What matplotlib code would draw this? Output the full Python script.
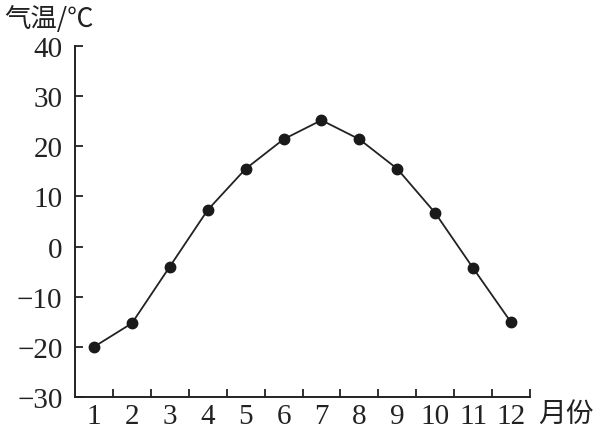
import matplotlib
matplotlib.use("Agg")
import matplotlib.pyplot as plt
import numpy as np

months = [1, 2, 3, 4, 5, 6, 7, 8, 9, 10, 11, 12]
temps = [-20, -15.3, -4, 7.3, 15.5, 21.4, 25.2, 21.4, 15.5, 6.7, -4.3, -15.1]
y_ticks = [-30, -20, -10, 0, 10, 20, 30, 40]

SERIF = ["Liberation Serif", "DejaVu Serif"]
CJK = ["Noto Sans CJK SC", "DejaVu Sans"]

fig = plt.figure(figsize=(6.05, 4.35), dpi=100)
ax = fig.add_axes([75 / 605, 1 - 398 / 435, (530 - 75) / 605, (398 - 47) / 435])

ax.plot(months, temps, color="#222222", lw=1.3, marker="o", ms=7.5,
        mfc="#1a1a1a", mec="#1a1a1a")

ax.set_xlim(0.5, 12.5)
ax.set_ylim(-30, 40)
ax.set_yticks(y_ticks)
ax.set_xticks(months)
ax.set_xticks(np.array(months) + 0.5, minor=True)

for s in ("top", "right"):
    ax.spines[s].set_visible(False)
for s in ("left", "bottom"):
    ax.spines[s].set_linewidth(1.4)
    ax.spines[s].set_color("#222222")

ax.tick_params(axis="x", which="major", length=0, pad=4)
ax.tick_params(axis="x", which="minor", direction="in", length=6, width=1.3, color="#222222")
ax.tick_params(axis="y", direction="in", length=6, width=1.3, color="#222222", pad=9)

for lab in ax.get_xticklabels() + ax.get_yticklabels():
    lab.set_family(SERIF)
    lab.set_fontsize(21)
    lab.set_color("#222222")

fig.text(4 / 605, 1 - 20 / 435, "气温/℃", family=CJK, fontsize=19, color="#222222",
         va="center", ha="left")
fig.text(538 / 605, 1 - 414 / 435, "月份", family=CJK, fontsize=20, color="#222222",
         va="center", ha="left")

fig.savefig("out.png", dpi=100)
